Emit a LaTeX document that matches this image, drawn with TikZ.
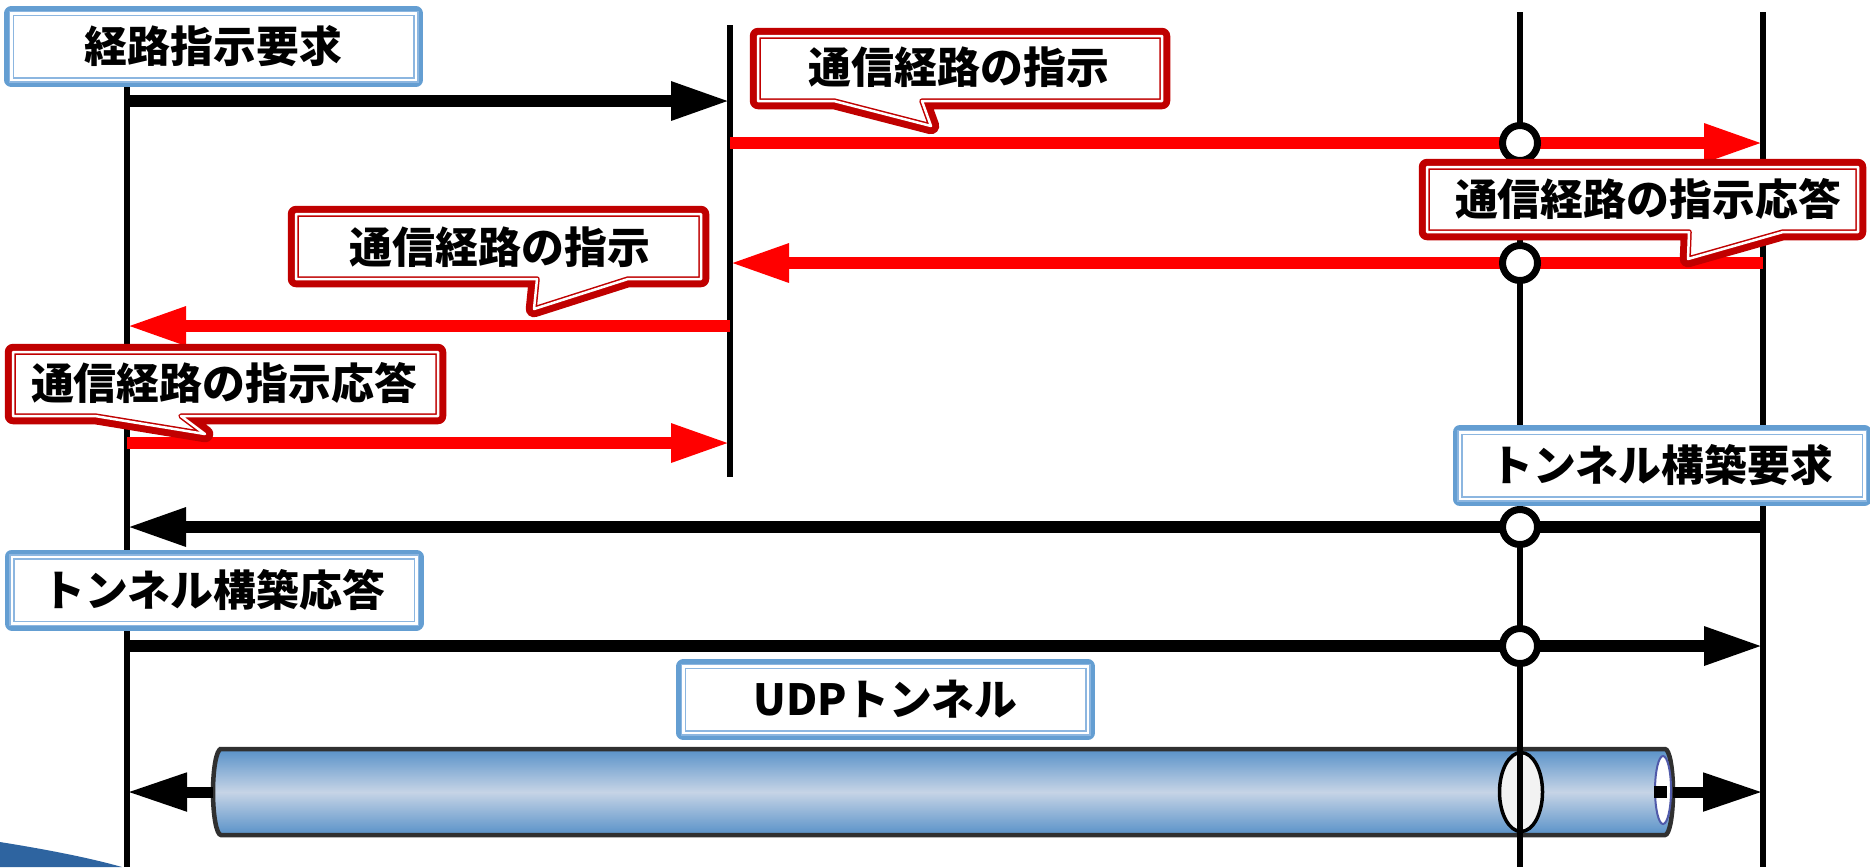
\documentclass[tikz,border=0pt]{standalone}
\usepackage{fontspec}
\setmainfont{Noto Sans CJK JP}
\usetikzlibrary{arrows.meta}

\definecolor{boxblue}{RGB}{100,158,210}
\definecolor{boxline}{RGB}{140,182,224}
\definecolor{callred}{RGB}{192,0,0}
\definecolor{msgred}{RGB}{255,0,0}
\definecolor{tubedark}{RGB}{88,145,200}
\definecolor{tubelight}{RGB}{198,212,230}
\definecolor{tubeedge}{RGB}{48,48,48}
\definecolor{cornerblue}{RGB}{46,100,160}

\begin{document}
\begin{tikzpicture}[x=0.1mm, y=-0.1mm,
  lifeline/.style={line width=0.55mm},
  msg/.style={line width=1.2mm, -{Triangle[length=5.9mm, width=3.6mm]}},
  blackmsg/.style={msg, black},
  redmsg/.style={msg, msgred},
  tunnelmsg/.style={line width=1.1mm, -{Triangle[length=6mm, width=3.6mm]}},
  relay/.style={circle, draw, fill=white, line width=0.7mm, minimum size=3.5mm, inner sep=0pt},
  jptext/.style={font=\fontsize{12.2}{14}\selectfont\bfseries, inner sep=0pt},
  bluebox/.style={jptext, rectangle, minimum width=40.45mm, minimum height=6.65mm,
    preaction={draw=boxblue, line width=1.45mm, line join=round},
    preaction={fill=white},
    draw=boxline, line width=0.15mm, double=white, double distance=0.25mm},
  callout/.style={preaction={draw=callred, line width=1.65mm, line join=round},
    preaction={fill=white},
    draw=callred, line width=0.15mm, double=white, double distance=0.25mm, line join=round},
]
\useasboundingbox (0,0) rectangle (1870,867);

% Corner decoration
\fill[cornerblue] (0,842) .. controls (50,850) and (90,858) .. (122,867) -- (0,867) -- cycle;

% UDP tunnel
\coordinate (tube west) at (213,792);
\coordinate (tube east) at (1673,792);
\draw[tubeedge, line width=0.45mm, top color=tubedark, bottom color=tubedark, middle color=tubelight]
  (221,749) -- (1665,749) arc[start angle=90, end angle=-90, x radius=0.8mm, y radius=4.3mm]
  -- (221,835) arc[start angle=270, end angle=90, x radius=0.8mm, y radius=4.3mm] -- cycle;
\draw[fill=white, draw={rgb,255:red,80;green,90;blue,170}, line width=0.2mm] (1663,790) ellipse[x radius=0.8mm, y radius=3.4mm];
\fill (1654,786) rectangle (1667,798);
\draw[fill=gray!10, line width=0.35mm] (1521,792) ellipse[x radius=2.15mm, y radius=3.95mm];

% Lifelines
\coordinate (termA) at (127,0);
\coordinate (srv) at (730,0);
\coordinate (nat) at (1520,0);
\coordinate (termB) at (1763,0);
\draw[lifeline] (termA |- 0,87) -- (termA |- 0,867);
\draw[lifeline] (srv |- 0,25) -- (srv |- 0,477);
\draw[lifeline] (nat |- 0,12) -- (nat |- 0,867);
\draw[lifeline] (termB |- 0,12) -- (termB |- 0,867);

% Messages
\draw[blackmsg] (termA |- 0,101) -- (srv |- 0,101);
\draw[redmsg] (srv |- 0,143) -- (termB |- 0,143);
\draw[redmsg] (termB |- 0,263) -- (srv |- 0,263);
\draw[redmsg] (srv |- 0,326) -- (termA |- 0,326);
\draw[redmsg] (termA |- 0,443) -- (srv |- 0,443);
\draw[blackmsg] (termB |- 0,527) -- (termA |- 0,527);
\draw[blackmsg] (termA |- 0,646) -- (termB |- 0,646);
\draw[tunnelmsg] (tube west) -- (termA |- tube west);
\draw[tunnelmsg] (tube east) -- (termB |- tube east);

% Relay points
\foreach \y/\n in {143/a,263/b,527/c,646/d}
  \node[relay] (relay\n) at (nat |- 0,\y) {};

% Callouts
\path[callout] (758,36) -- (1162,36) -- (1162,101) -- (922,101) -- (931,126) -- (834,101) -- (758,101) -- cycle;
\node[jptext] (instr1) at (959,67) {通信経路の指示};
\path[callout] (1427,167) -- (1858,167) -- (1858,232) -- (1783,232) -- (1688,259) -- (1689,232) -- (1427,232) -- cycle;
\node[jptext] (ack1) at (1648,199) {通信経路の指示応答};
\path[callout] (296,214) -- (701,214) -- (701,279) -- (628,279) -- (534,309) -- (537,279) -- (296,279) -- cycle;
\node[jptext] (instr2) at (500,247) {通信経路の指示};
\path[callout] (13,352) -- (438,352) -- (438,416) -- (181,416) -- (205,434) -- (95,416) -- (13,416) -- cycle;
\node[jptext] (ack2) at (224,383) {通信経路の指示応答};

% Requests and replies
\node[bluebox] (routereq) at (213.5,46.5) {経路指示要求};
\node[bluebox] (tunnelreq) at (1662,465.5) {トンネル構築要求};
\node[bluebox] (tunnelack) at (214,590) {トンネル構築応答};
\node[bluebox] (udptunnel) at (885.5,699.5) {UDPトンネル};

\end{tikzpicture}
\end{document}
